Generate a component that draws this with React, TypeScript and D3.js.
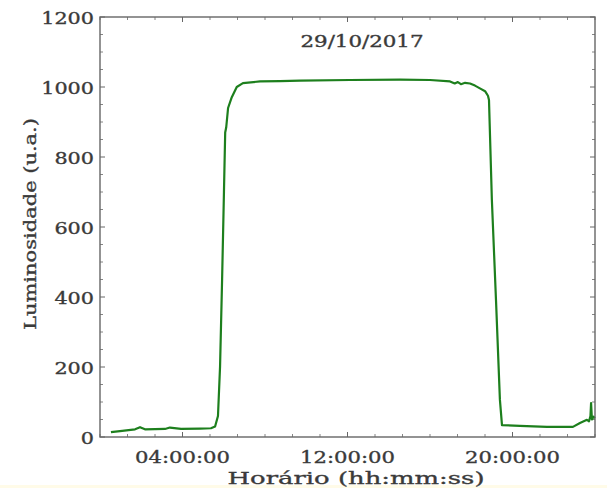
import React from 'react';
import * as d3 from 'd3';

const timeHours = [0.53, 0.97, 1.70, 1.94, 2.18, 3.15, 3.39, 3.93, 4.85, 5.38, 5.58, 5.72, 5.82, 5.92, 6.01, 6.07, 6.12, 6.21, 6.39, 6.63, 6.93, 7.76, 8.73, 9.70, 12.12, 14.55, 16.00, 16.97, 17.20, 17.35, 17.50, 17.70, 17.94, 18.18, 18.42, 18.67, 18.81, 18.86, 19.00, 19.20, 19.39, 19.49, 20.36, 21.67, 22.93, 23.27, 23.61, 23.71, 23.78, 23.81, 23.85, 23.92, 24.0];
const luminosity = [14, 17, 22, 28, 22, 23, 27, 23, 24, 25, 30, 60, 200, 450, 700, 870, 885, 940, 971, 1000, 1011, 1016, 1017, 1018, 1020, 1021, 1020, 1016, 1010, 1014, 1008, 1012, 1010, 1004, 996, 988, 975, 963, 677, 391, 106, 34, 32, 29, 29, 40, 49, 45, 60, 97, 50, 58, 54];

const yTicks = [0, 200, 400, 600, 800, 1000, 1200];
const xTicks = [4, 12, 20];
const xTickLabels = ['04:00:00', '12:00:00', '20:00:00'];
const title = '29/10/2017';
const xLabel = 'Horário (hh:mm:ss)';
const yLabel = 'Luminosidade (u.a.)';

export default function App() {
  const W = 607, H = 488;
  const left = 100, right = 595, top = 17, bottom = 437;
  const x = d3.scaleLinear().domain([0, 24]).range([left, right]);
  const y = d3.scaleLinear().domain([0, 1200]).range([bottom, top]);
  const pts = timeHours.map((t, i) => [t, luminosity[i]] as [number, number]);
  const line = d3.line<[number, number]>().x(d => x(d[0])).y(d => y(d[1]));

  const yMinor = d3.range(0, 1201, 50).filter(v => v % 200 !== 0);
  const xMinor = d3.range(0, 24.01, 4 / 3).filter(v => Math.abs(((v - 4) / 8) - Math.round((v - 4) / 8)) > 0.01);
  const axisColor = '#666';
  const textColor = '#3a3a3a';
  const font = 'DejaVu Serif, serif';
  const textStroke = { stroke: textColor, strokeWidth: 0.35 };

  return (
    <svg width={W} height={H} style={{ position: 'absolute', left: 0, top: 0, background: '#fff' }}>
      <rect x={0} y={0} width={W} height={H} fill="#fff" />
      <rect x={0} y={485} width={W} height={3} fill="#fffbe8" />
      {yMinor.map(v => (
        <g key={'ym' + v}>
          <line x1={left} x2={left + 3} y1={y(v)} y2={y(v)} stroke={axisColor} strokeWidth={0.8} />
          <line x1={right} x2={right - 3} y1={y(v)} y2={y(v)} stroke={axisColor} strokeWidth={0.8} />
        </g>
      ))}
      {yTicks.map(v => (
        <g key={'y' + v}>
          <line x1={left} x2={left + 5} y1={y(v)} y2={y(v)} stroke={axisColor} strokeWidth={1} />
          <line x1={right} x2={right - 5} y1={y(v)} y2={y(v)} stroke={axisColor} strokeWidth={1} />
          <text x={94} y={y(v) + 1} textAnchor="end" dominantBaseline="central" fontFamily={font} fontSize={17} fill={textColor}
            {...textStroke} textLength={String(v).length * 13.2} lengthAdjust="spacingAndGlyphs">{v}</text>
        </g>
      ))}
      {xMinor.map(v => (
        <g key={'xm' + v}>
          <line x1={x(v)} x2={x(v)} y1={bottom} y2={bottom - 3} stroke={axisColor} strokeWidth={0.8} />
          <line x1={x(v)} x2={x(v)} y1={top} y2={top + 3} stroke={axisColor} strokeWidth={0.8} />
        </g>
      ))}
      {xTicks.map((v, i) => (
        <g key={'x' + v}>
          <line x1={x(v)} x2={x(v)} y1={bottom} y2={bottom - 5} stroke={axisColor} strokeWidth={1} />
          <line x1={x(v)} x2={x(v)} y1={top} y2={top + 5} stroke={axisColor} strokeWidth={1} />
          <text x={x(v)} y={463} textAnchor="middle" fontFamily={font} fontSize={17} fill={textColor}
            {...textStroke} textLength={95} lengthAdjust="spacingAndGlyphs">{xTickLabels[i]}</text>
        </g>
      ))}
      <path d={line(pts) || ''} fill="none" stroke="#1d7f1d" strokeWidth={2.2} strokeLinejoin="round" />
      <rect x={left} y={top} width={right - left} height={bottom - top} fill="none" stroke={axisColor} strokeWidth={1.4} />
      <text x={362} y={47} textAnchor="middle" fontFamily={font} fontSize={16} fill={textColor}
        {...textStroke} textLength={123} lengthAdjust="spacingAndGlyphs">{title}</text>
      <text x={356} y={484} textAnchor="middle" fontFamily={font} fontSize={17.5} fill={textColor}
        {...textStroke} textLength={257} lengthAdjust="spacingAndGlyphs">{xLabel}</text>
      <text transform={`translate(36, 224) rotate(-90)`} textAnchor="middle" fontFamily={font} fontSize={17.5} fill={textColor}
        {...textStroke} textLength={212} lengthAdjust="spacingAndGlyphs">{yLabel}</text>
    </svg>
  );
}
